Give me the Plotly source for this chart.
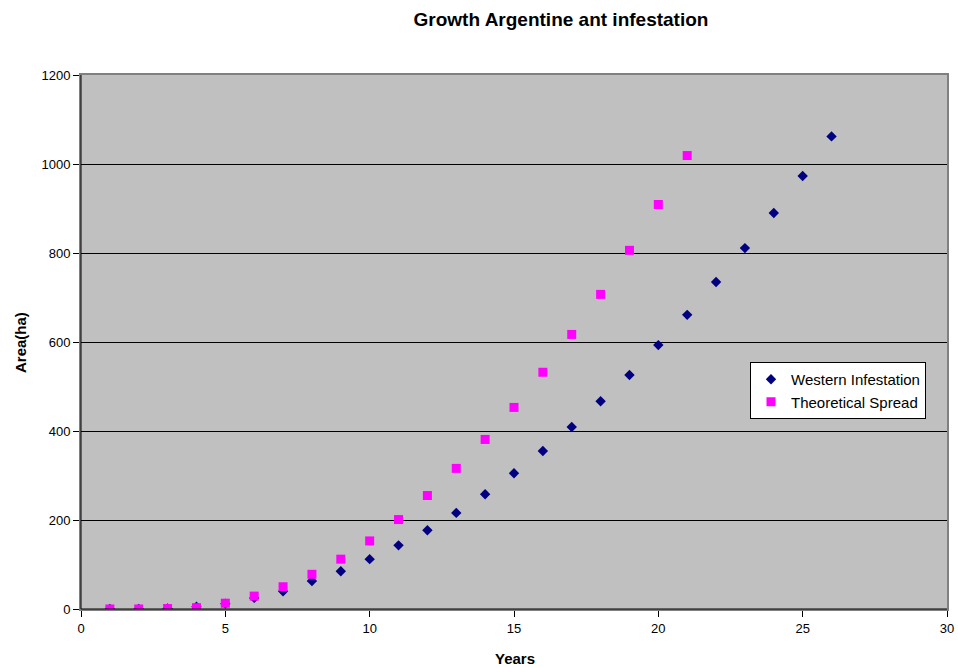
import plotly.graph_objects as go

years_w = list(range(1, 27))
western = [0, 0, 1, 5, 12, 25, 40, 63, 85, 112, 143, 177, 216, 258, 305, 355,
           409, 467, 526, 593, 661, 735, 811, 890, 973, 1062]
years_t = list(range(1, 22))
theoretical = [0, 0, 1, 3, 13, 29, 50, 78, 112, 153, 201, 255, 316, 381, 453,
               532, 617, 707, 806, 909, 1019]

fig = go.Figure()
fig.add_trace(go.Scatter(x=years_w, y=western, mode="markers", name="Western Infestation",
                         marker=dict(symbol="diamond", color="#000080", size=8)))
fig.add_trace(go.Scatter(x=years_t, y=theoretical, mode="markers", name="Theoretical Spread",
                         marker=dict(symbol="square", color="#FF00FF", size=9)))

W, H = 958, 667
# plot area in window pixels: x 81..947, y 75..609
L, R, T, B = 81, 958 - 947, 75, 667 - 609
pw = W - L - R
ph = H - T - B
FONT = "Arial, Liberation Sans, sans-serif"


def px_x(wx):
    return (wx - 81) / pw


def px_y(wy):
    return (609 - wy) / ph


fig.update_layout(
    width=W, height=H,
    margin=dict(l=L, r=R, t=T, b=B, autoexpand=False),
    paper_bgcolor="white",
    plot_bgcolor="#C0C0C0",
    font=dict(family=FONT, size=13, color="black"),
    title=dict(text="<b>Growth Argentine ant infestation</b>", x=561 / W,
               xanchor="center", y=1 - 19 / H, yanchor="middle",
               font=dict(size=19)),
    showlegend=True,
    legend=dict(x=px_x(750), y=px_y(362), xanchor="left", yanchor="top",
                bgcolor="white", bordercolor="black", borderwidth=1,
                font=dict(size=15), itemwidth=30, tracegroupgap=0),
    xaxis=dict(range=[0, 30], dtick=5, tick0=0, showgrid=False, zeroline=False,
               showline=True, linecolor="#808080", linewidth=2, mirror=True,
               ticks="outside", ticklen=6, tickcolor="black", automargin=False),
    yaxis=dict(range=[0, 1200], dtick=200, tick0=0, showgrid=True, gridcolor="black",
               gridwidth=1, zeroline=False,
               showline=True, linecolor="#808080", linewidth=2, mirror=True,
               ticks="outside", ticklen=6, tickcolor="black", automargin=False),
)
fig.add_shape(type="line", xref="paper", yref="paper", x0=0, x1=1, y0=0, y1=0,
              line=dict(color="black", width=1))
fig.add_shape(type="line", xref="paper", yref="paper", x0=0, x1=0, y0=0, y1=1,
              line=dict(color="black", width=1))
fig.add_annotation(text="<b>Years</b>", xref="paper", yref="paper",
                   x=px_x(515), y=px_y(658), xanchor="center", yanchor="middle",
                   showarrow=False, font=dict(size=15))
fig.add_annotation(text="<b>Area(ha)</b>", xref="paper", yref="paper",
                   x=px_x(20), y=px_y(342), xanchor="center", yanchor="middle",
                   textangle=-90, showarrow=False, font=dict(size=15))

fig.write_html("out.html",
               config={"displayModeBar": False},
               post_script="document.body.style.margin='0px';"
                           "document.body.style.overflow='hidden';")
